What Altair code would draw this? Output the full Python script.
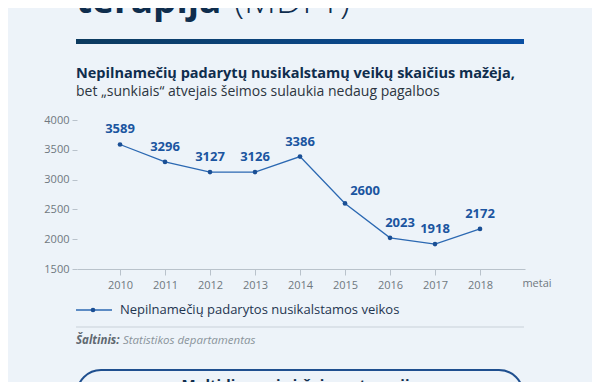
import altair as alt
import pandas as pd

years = [2010, 2011, 2012, 2013, 2014, 2015, 2016, 2017, 2018]
values = [3589, 3296, 3127, 3126, 3386, 2600, 2023, 1918, 2172]
y_ticks = [1500, 2000, 2500, 3000, 3500, 4000]

title_bold = "terapija"
title_light = "(MDFT)"
subtitle_bold = "Nepilnamečių padarytų nusikalstamų veikų skaičius mažėja,"
subtitle_reg = "bet „sunkiais“ atvejais šeimos sulaukia nedaug pagalbos"
series_name = "Nepilnamečių padarytos nusikalstamos veikos"
x_unit = "metai"
source_label = "Šaltinis:"
source_text = "Statistikos departamentas"
box_title = "Multidimensinė šeimos terapija"

FONT = "Open Sans"
NAVY = "#0f2d4d"
BLUE = "#1b55a0"
LINE = "#2b68b2"
GRAY = "#6f7880"

df = pd.DataFrame({"year": years, "value": values})

W, H = 448, 149

x = alt.X("year:Q", scale=alt.Scale(domain=[2009.044, 2019], nice=False, zero=False),
          axis=alt.Axis(values=years, format="d", title=None, grid=False, tickSize=6,
                        tickColor="#b9c2cb", domainColor="#b9c2cb", labelColor=GRAY,
                        labelFont=FONT, labelFontSize=11, labelPadding=4, domainWidth=1,
                        labelOverlap=False))
y = alt.Y("value:Q", scale=alt.Scale(domain=[1500, 4000], nice=False, zero=False),
          axis=alt.Axis(values=y_ticks, format="d", title=None, grid=False, domain=False, tickSize=5,
                        tickColor="#b9c2cb", labelColor=GRAY, labelFont=FONT,
                        labelFontSize=11, labelPadding=3, labelOverlap=False,
                        tickCount=6, labelBound=False))

base = alt.Chart(df)
line = base.mark_line(color=LINE, strokeWidth=1.3).encode(x=x, y=y)
pts = base.mark_point(filled=True, color="#1a4f95", size=22, opacity=1).encode(x=x, y=y)

def labels(filt, dx, dy):
    return base.transform_filter(filt).mark_text(
        font=FONT, fontSize=13, fontWeight="bold", color=BLUE, dx=dx, dy=dy
    ).encode(x=x, y=y, text="value:Q")

lab_main = labels("datum.year != 2015 && datum.year != 2016", 0, -15)
lab_2015 = labels("datum.year == 2015", 20, -12)
lab_2016 = labels("datum.year == 2016", 10, -15)

one = alt.InlineData(values=[{"k": 1}])

def txt(s, px, py, size, weight="normal", color=NAVY, align="left", style="normal", baseline="alphabetic"):
    return alt.Chart(one).mark_text(
        text=s, font=FONT, fontSize=size, fontWeight=weight, color=color,
        align=align, fontStyle=style, baseline=baseline
    ).encode(x=alt.value(px - 77), y=alt.value(py - 120))

header1 = txt(title_bold, 76, 13, 37, "bold")
header2 = txt(title_light, 234, 13, 37, 300)

grad = alt.Gradient(gradient="linear",
                    stops=[alt.GradientStop(color="#0c3a5e", offset=0),
                           alt.GradientStop(color="#0a4fa3", offset=1)],
                    x1=0, x2=1, y1=0, y2=0)
bar = alt.Chart(one).mark_rect(color=grad).encode(
    x=alt.value(76 - 77), x2=alt.value(524 - 77), y=alt.value(39 - 120), y2=alt.value(44 - 120))

sub1 = txt(subtitle_bold, 76, 74, 14.5, "bold", NAVY, baseline="middle")
sub2 = txt(subtitle_reg, 76, 92, 14, "normal", "#2c3540", baseline="middle")

metai = txt(x_unit, 537, 284, 11, "normal", GRAY, align="center", baseline="middle")

leg_line = alt.Chart(one).mark_rule(color=LINE, strokeWidth=1.3).encode(
    x=alt.value(76 - 77), x2=alt.value(112 - 77), y=alt.value(310 - 120))
leg_pt = alt.Chart(one).mark_point(filled=True, color="#1a4f95", size=22, opacity=1).encode(
    x=alt.value(93 - 77), y=alt.value(310 - 120))
leg_txt = txt(series_name, 120, 310, 13, "normal", "#1f3550", baseline="middle")

sep = alt.Chart(one).mark_rule(color="#c9d1d9", strokeWidth=1).encode(
    x=alt.value(76 - 77), x2=alt.value(524 - 77), y=alt.value(327 - 120))

src1 = txt(source_label, 76, 341, 11.5, "bold", "#5f6870", style="italic", baseline="middle")
src2 = txt(source_text, 123, 341, 11.5, "normal", "#8a939b", style="italic", baseline="middle")

box = alt.Chart(one).mark_rect(filled=False, stroke="#1f4f8f", strokeWidth=2, cornerRadius=24).encode(
    x=alt.value(77 - 77), x2=alt.value(523 - 77), y=alt.value(370 - 120), y2=alt.value(440 - 120))
box_t = txt(box_title, 300, 385, 15, "bold", NAVY, align="center", baseline="middle")

chart = alt.layer(
    line, pts, lab_main, lab_2015, lab_2016,
    header1, header2, bar, sub1, sub2, metai,
    leg_line, leg_pt, leg_txt, sep, src1, src2, box, box_t
).properties(
    width=W, height=H,
    autosize=alt.AutoSizeParams(type="none"),
    padding={"left": 69, "top": 112, "right": 67, "bottom": 113},
    background="#edf3f9",
).configure_view(stroke=None)

chart.save("out.html", embed_options={"renderer": "svg", "actions": False})
